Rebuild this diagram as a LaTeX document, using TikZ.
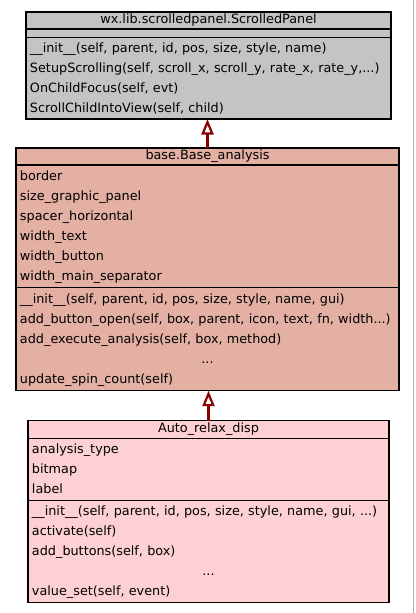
\documentclass[tikz,border=0pt]{standalone}
\usepackage{fontspec}
\setmainfont{DejaVu Sans}
\usetikzlibrary{arrows.meta,positioning}
\definecolor{panelgray}{RGB}{198,195,199}
\definecolor{basesalmon}{RGB}{227,176,163}
\definecolor{disppink}{RGB}{253,208,211}
\definecolor{inhred}{RGB}{139,0,0}
\newcommand{\omitrow}{\strut\hspace*{\fill}...\hspace*{\fill}\mbox{}}
\tikzset{
  clshead/.style={draw=black, line width=1.4bp, outer sep=0pt, inner xsep=4bp, inner ysep=0pt, align=center, minimum height=17bp, font=\fontsize{12.8bp}{17bp}\selectfont},
  clsbody/.style={draw=black, line width=1.4bp, outer sep=0pt, inner xsep=4bp, inner ysep=0pt, align=left, font=\fontsize{12.8bp}{20bp}\selectfont},
  inherit/.style={-{Triangle[open, length=15.5bp, width=12bp]}, line width=2.2bp, draw=inhred}
}

\begin{document}
\begin{tikzpicture}[x=1bp, y=-1bp]
  \useasboundingbox (0,0) rectangle (415,613);
  \draw[black!30, line width=1bp] (413,0) -- (413,613);

  % wx.lib.scrolledpanel.ScrolledPanel
  \node[clshead, fill=panelgray, text width=357bp, anchor=north] (sp-title) at (208.5,12) {\strut wx.lib.scrolledpanel.ScrolledPanel};
  \node[clsbody, fill=panelgray, text width=357bp, minimum height=8.7bp, below=0pt of sp-title] (sp-attr) {};
  \node[clsbody, fill=panelgray, text width=357bp, minimum height=81.3bp, below=0pt of sp-attr] (sp-meth) {%
    \strut\_\_init\_\_(self, parent, id, pos, size, style, name)\\
    \strut SetupScrolling(self, scroll\_x, scroll\_y, rate\_x, rate\_y,...)\\
    \strut OnChildFocus(self, evt)\\
    \strut ScrollChildIntoView(self, child)};

  % base.Base_analysis
  \node[clshead, fill=basesalmon, text width=375bp, anchor=north] (ba-title) at (207.5,148) {\strut base.Base\_analysis};
  \node[clsbody, fill=basesalmon, text width=375bp, minimum height=122.7bp, below=0pt of ba-title] (ba-attr) {%
    \strut border\\
    \strut size\_graphic\_panel\\
    \strut spacer\_horizontal\\
    \strut width\_text\\
    \strut width\_button\\
    \strut width\_main\_separator};
  \node[clsbody, fill=basesalmon, text width=375bp, minimum height=103bp, below=0pt of ba-attr] (ba-meth) {%
    \strut\_\_init\_\_(self, parent, id, pos, size, style, name, gui)\\
    \strut add\_button\_open(self, box, parent, icon, text, fn, width...)\\
    \strut add\_execute\_analysis(self, box, method)\\
    \omitrow\\
    \strut update\_spin\_count(self)};

  % Auto_relax_disp
  \node[clshead, fill=disppink, text width=353bp, minimum height=17.6bp, anchor=north] (ard-title) at (208.5,420.7) {\strut Auto\_relax\_disp};
  \node[clsbody, fill=disppink, text width=353bp, minimum height=62.4bp, below=0pt of ard-title] (ard-attr) {%
    \strut analysis\_type\\
    \strut bitmap\\
    \strut label};
  \node[clsbody, fill=disppink, text width=353bp, minimum height=102bp, below=0pt of ard-attr] (ard-meth) {%
    \strut\_\_init\_\_(self, parent, id, pos, size, style, name, gui, ...)\\
    \strut activate(self)\\
    \strut add\_buttons(self, box)\\
    \omitrow\\
    \strut value\_set(self, event)};

  \draw[inherit] (ba-title.north) -- (ba-title.north |- sp-meth.south);
  \draw[inherit] (ard-title.north) -- (ard-title.north |- ba-meth.south);
\end{tikzpicture}
\end{document}
